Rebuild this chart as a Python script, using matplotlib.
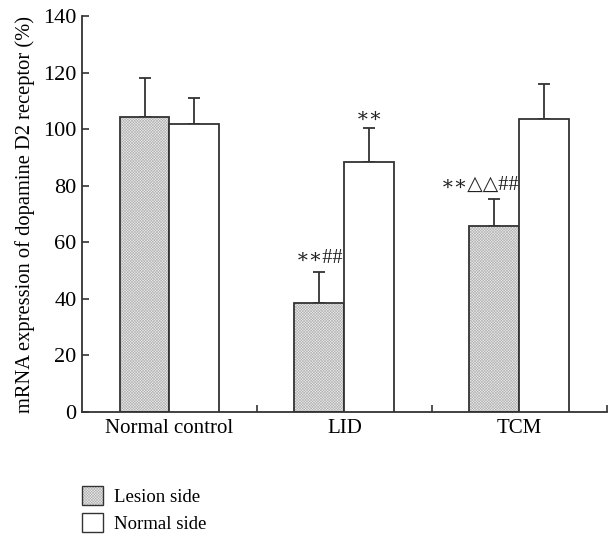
import matplotlib
matplotlib.use('Agg')
import matplotlib.pyplot as plt
import numpy as np
from matplotlib.patches import Patch

groups = ['Normal control', 'LID', 'TCM']
lesion = [104.4, 38.4, 65.9]
lesion_err = [13.6, 11.1, 9.4]
normal = [101.7, 88.5, 103.6]
normal_err = [9.4, 12.0, 12.3]
lesion_marks = ['', '∗∗##', '∗∗△△##']
normal_marks = ['', '∗∗', '']

plt.rcParams['font.family'] = ['Liberation Serif', 'DejaVu Serif', 'DejaVu Sans']
plt.rcParams['font.size'] = 15
plt.rcParams['hatch.linewidth'] = 0.4
plt.rcParams['hatch.color'] = '#b0b0b0'

edge = '#333333'
hatch_fc = '#ececec'
fig = plt.figure(figsize=(6.13, 5.36), dpi=100)
ax = fig.add_axes([0.1338, 0.2313, 0.990 - 0.1338, 0.970 - 0.2313])

x = np.arange(len(groups))
w = 0.2857

# lesion side: hatch layer then outline
ax.bar(x - w / 2, lesion, w, color=hatch_fc, hatch='x' * 12, edgecolor='#b0b0b0', linewidth=0, zorder=2)
ax.bar(x - w / 2, lesion, w, fill=False, edgecolor=edge, linewidth=1.3, zorder=3)
ax.bar(x + w / 2, normal, w, color='white', edgecolor=edge, linewidth=1.3, zorder=3)

ax.errorbar(x - w / 2, lesion, yerr=[np.zeros(3), lesion_err], fmt='none',
            ecolor=edge, elinewidth=1.3, capsize=4, capthick=1.3, zorder=1)
ax.errorbar(x + w / 2, normal, yerr=[np.zeros(3), normal_err], fmt='none',
            ecolor=edge, elinewidth=1.3, capsize=4, capthick=1.3, zorder=1)

# significance marks
for i in range(len(groups)):
    if lesion_marks[i]:
        xo = -0.08 if i == 2 else 0
        ax.text(x[i] - w / 2 + xo, lesion[i] + lesion_err[i] + 4.8, lesion_marks[i],
                ha='center', va='center', fontsize=14.5, color='#222222')
    if normal_marks[i]:
        ax.text(x[i] + w / 2, normal[i] + normal_err[i] + 3.6, normal_marks[i],
                ha='center', va='center', fontsize=14.5, color='#222222')

ax.set_xlim(-0.5, 2.5)
ax.set_ylim(0, 140)
ax.set_yticks(range(0, 141, 20))
ax.set_xticks(x)
ax.set_xticklabels(groups, fontsize=15)
ax.set_xticks([0.5, 1.5, 2.5], minor=True)
ax.tick_params(axis='x', which='major', length=0, pad=5)
ax.tick_params(axis='x', which='minor', direction='in', length=5, width=1.2, color=edge)
ax.tick_params(axis='y', direction='in', length=5, width=1.2, color=edge, pad=4, labelsize=16)
for s in ['top', 'right']:
    ax.spines[s].set_visible(False)
for s in ['left', 'bottom']:
    ax.spines[s].set_color(edge)
    ax.spines[s].set_linewidth(1.3)
ax.set_ylabel('mRNA expression of dopamine D2 receptor (%)', labelpad=6, fontsize=14.8)

h1 = (Patch(facecolor=hatch_fc, hatch='x' * 12, edgecolor='#b0b0b0', linewidth=0),
      Patch(fill=False, edgecolor=edge, linewidth=1.0))
h2 = Patch(facecolor='white', edgecolor=edge, linewidth=1.0)
fig.legend([h1, h2], ['Lesion side', 'Normal side'], loc='lower left',
           bbox_to_anchor=(0.121, -0.008), frameon=False, handlelength=1.15,
           handleheight=1.15, handletextpad=0.6, labelspacing=0.4, borderaxespad=0,
           fontsize=13.5)

fig.savefig('out.png', dpi=100)
